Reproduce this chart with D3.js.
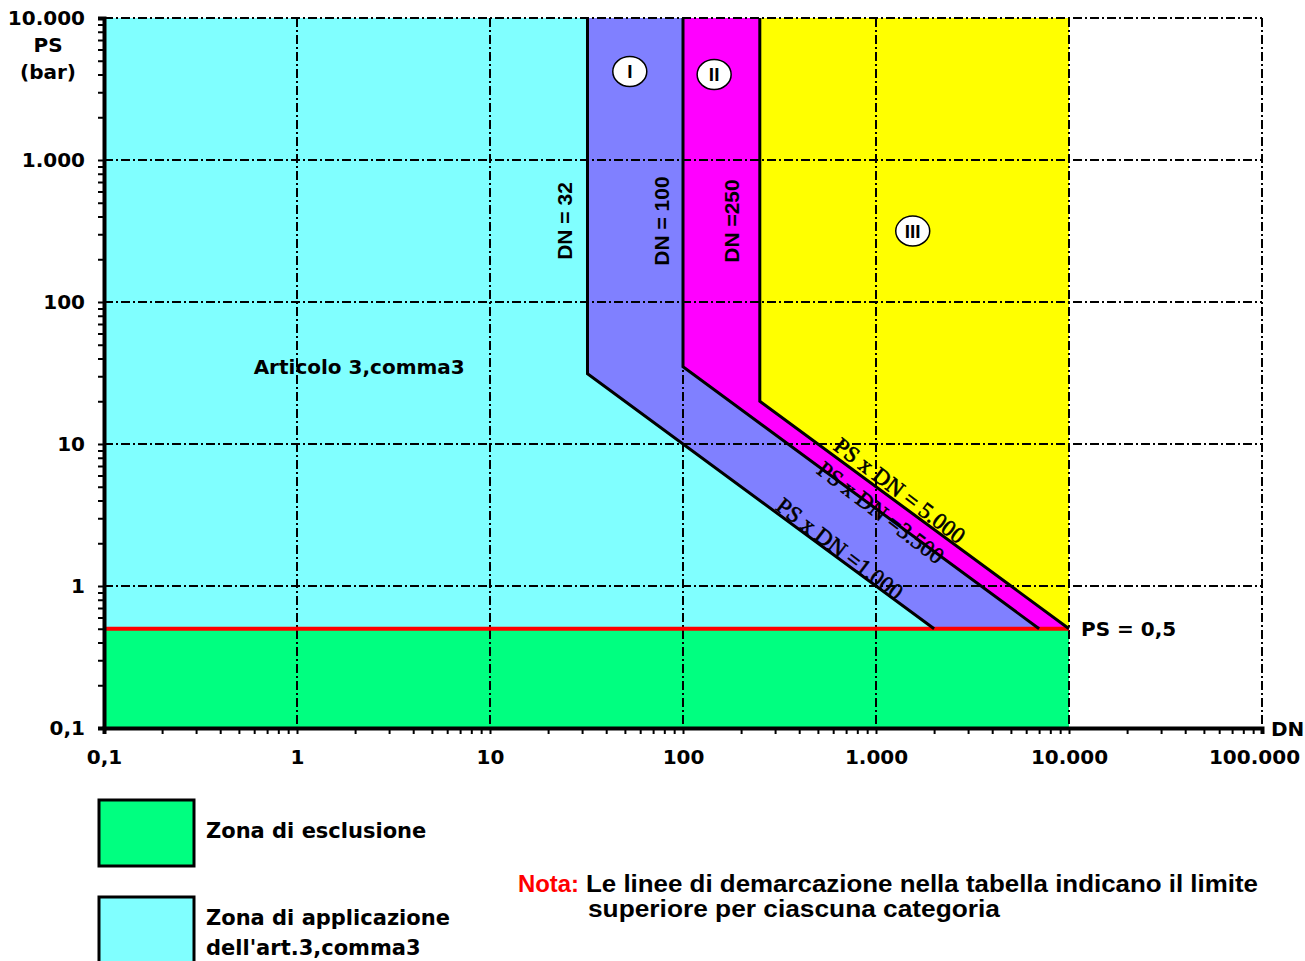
<!DOCTYPE html>
<html>
<head>
    <meta charset="utf-8">
    <title>Categorie PED - tubazioni</title>
    <script src="https://d3js.org/d3.v7.min.js"></script>
    <style>
        body { margin: 0; background: #fff; }
        text { font-family: "DejaVu Sans", Arial, sans-serif; font-weight: bold; }
    </style>
</head>
<body>
<div id="chart"></div>
<script>
    // DN / PS limits (bar)
    const dnDomain = [0.1, 100000];
    const psDomain = [0.1, 10000];
    const psMin = 0.5;        // PS = 0,5
    const dnMax = 10000;      // end of the coloured zones

    // Category boundaries: vertical DN limit, then PS x DN = k
    const categories = ["I", "II", "III"];
    const boundaryDN = [32, 100, 250];
    const boundaryK = [1000, 3500, 5000];
    const boundaryLabels = ["DN = 32", "DN = 100", "DN =250"];
    const productLabels = ["PS x DN =1.000", "PS x DN =3.500", "PS x DN = 5.000"];

    // where the roman numerals sit (DN, PS)
    const numeralDN = [53, 145, 1550];
    const numeralPS = [4200, 4000, 316];

    const zoneColors = {
        esclusione: "#00ff80",
        art3: "#80ffff",
        I: "#8080ff",
        II: "#ff00ff",
        III: "#ffff00"
    };

    const W = 1305, H = 961;
    const svg = d3.select("#chart").append("svg")
        .attr("width", W)
        .attr("height", H);

    const x = d3.scaleLog().domain(dnDomain).range([104, 1262]);
    const y = d3.scaleLog().domain(psDomain).range([728, 18]);

    const it = d3.formatLocale({ decimal: ",", thousands: ".", grouping: [3], currency: ["", "€"] });
    const fmt = it.format(",");
    const isDecade = v => Math.abs(Math.log10(v) - Math.round(Math.log10(v))) < 1e-9;

    const line = d3.line().x(d => x(d[0])).y(d => y(d[1]));

    // boundary of one category as list of [DN, PS]
    function boundary(i) {
        const dn = boundaryDN[i], k = boundaryK[i];
        return [[dn, psDomain[1]], [dn, k / dn], [k / psMin, psMin]];
    }

    const b = categories.map((c, i) => boundary(i));

    // zones
    const zones = [
        { fill: zoneColors.esclusione, pts: [[dnDomain[0], psDomain[0]], [dnMax, psDomain[0]], [dnMax, psMin], [dnDomain[0], psMin]] },
        { fill: zoneColors.art3, pts: [[dnDomain[0], psDomain[1]]].concat(b[0], [[dnDomain[0], psMin]]) },
        { fill: zoneColors.I, pts: b[0].concat(b[1].slice().reverse()) },
        { fill: zoneColors.II, pts: b[1].concat(b[2].slice().reverse()) },
        { fill: zoneColors.III, pts: b[2].concat([[dnMax, psMin], [dnMax, psDomain[1]]]) }
    ];

    svg.append("g").selectAll("path")
        .data(zones)
        .enter().append("path")
        .attr("d", d => line(d.pts) + "Z")
        .attr("fill", d => d.fill);

    // dash-dot grid
    const gx = x.ticks().filter(isDecade).filter(v => v > dnDomain[0]);
    const gy = y.ticks().filter(isDecade).filter(v => v > psDomain[0]);
    const grid = svg.append("g")
        .attr("stroke", "#000")
        .attr("stroke-width", 2)
        .attr("stroke-dasharray", "9,3,2,3");
    grid.selectAll(".vx").data(gx).enter().append("line")
        .attr("x1", d => x(d)).attr("x2", d => x(d))
        .attr("y1", y(psDomain[1])).attr("y2", y(psDomain[0]));
    grid.selectAll(".hy").data(gy).enter().append("line")
        .attr("x1", x(dnDomain[0])).attr("x2", x(dnDomain[1]))
        .attr("y1", d => y(d)).attr("y2", d => y(d));

    // red PS = 0,5 line
    svg.append("line")
        .attr("x1", x(dnDomain[0])).attr("x2", x(dnMax))
        .attr("y1", y(psMin)).attr("y2", y(psMin))
        .attr("stroke", "#ff0000")
        .attr("stroke-width", 4);

    // category boundary lines
    svg.append("g").selectAll("path")
        .data(b)
        .enter().append("path")
        .attr("d", d => line(d))
        .attr("fill", "none")
        .attr("stroke", "#000")
        .attr("stroke-width", 3);

    // axes
    const yAxis = svg.append("g")
        .attr("transform", `translate(${x(dnDomain[0])},0)`)
        .call(d3.axisLeft(y).tickSize(6).tickPadding(13)
            .tickFormat(v => isDecade(v) ? fmt(v) : ""));
    const xAxis = svg.append("g")
        .attr("transform", `translate(0,${y(psDomain[0])})`)
        .call(d3.axisBottom(x).tickSize(6).tickPadding(16)
            .tickFormat(v => isDecade(v) ? fmt(v) : ""));
    [yAxis, xAxis].forEach(a => {
        a.select(".domain").attr("stroke-width", 4).attr("stroke", "#000");
        a.selectAll(".tick line").attr("stroke-width", 2);
        a.selectAll("text").style("font-size", "20px").attr("fill", "#000")
            .style("font-family", "'DejaVu Sans', Arial, sans-serif").style("font-weight", "bold");
    });
    // keep the last DN label inside the page
    xAxis.selectAll(".tick text").filter(v => v === dnDomain[1]).attr("dx", -8);

    svg.append("text").attr("x", 48).attr("y", 52).attr("text-anchor", "middle")
        .style("font-size", "20px").text("PS");
    svg.append("text").attr("x", 48).attr("y", 79).attr("text-anchor", "middle")
        .style("font-size", "20px").text("(bar)");
    svg.append("text").attr("x", 1271).attr("y", 736)
        .style("font-size", "20px").text("DN");

    // vertical boundary labels
    const vx = [565, 662, 732];
    svg.append("g").selectAll("text")
        .data(boundaryLabels)
        .enter().append("text")
        .attr("transform", (d, i) => `translate(${vx[i] + 7},221) rotate(-90)`)
        .attr("text-anchor", "middle")
        .style("font-family", "'Liberation Sans', Arial, sans-serif")
        .style("font-size", "21px")
        .text(d => d);

    // diagonal PS x DN labels
    const ang = Math.atan2(y(1) - y(10), x(10) - x(1)) * 180 / Math.PI;
    const labelDN = [650, 1060, 1330];
    const labelOff = [-11, 0, -14];
    svg.append("g").selectAll("text")
        .data(productLabels)
        .enter().append("text")
        .attr("transform", (d, i) => {
            const dn = labelDN[i];
            return `translate(${x(dn)},${y(boundaryK[i] / dn) + labelOff[i]}) rotate(${ang + 1})`;
        })
        .attr("text-anchor", "middle")
        .attr("dy", "0.35em")
        .style("font-family", "'Liberation Serif', 'Times New Roman', serif")
        .style("font-weight", "normal")
        .style("font-size", "23px")
        .attr("stroke", "#000")
        .attr("stroke-width", 0.6)
        .text(d => d);

    // roman numerals in circles
    const num = svg.append("g").selectAll("g")
        .data(categories)
        .enter().append("g")
        .attr("transform", (d, i) => `translate(${x(numeralDN[i])},${y(numeralPS[i])})`);
    num.append("ellipse")
        .attr("rx", 17).attr("ry", 15)
        .attr("fill", "#fff").attr("stroke", "#000").attr("stroke-width", 1.5);
    num.append("text")
        .attr("text-anchor", "middle")
        .attr("dy", "0.36em")
        .style("font-family", "'Liberation Sans', Arial, sans-serif")
        .style("font-size", "19px")
        .text(d => d);

    // area labels
    svg.append("text")
        .attr("x", x(2.1)).attr("y", y(35))
        .attr("text-anchor", "middle").attr("dy", "0.35em")
        .style("font-size", "20px")
        .text("Articolo 3,comma3");
    svg.append("text")
        .attr("x", x(dnMax) + 12).attr("y", y(psMin))
        .attr("dy", "0.35em")
        .style("font-size", "20px")
        .text("PS = 0,5");

    // legend
    const legend = [
        { color: zoneColors.esclusione, lines: ["Zona di esclusione"], y: 800 },
        { color: zoneColors.art3, lines: ["Zona di applicazione", "dell'art.3,comma3"], y: 897 }
    ];
    const lg = svg.append("g").selectAll("g")
        .data(legend)
        .enter().append("g");
    lg.append("rect")
        .attr("x", 99).attr("y", d => d.y)
        .attr("width", 95).attr("height", 66)
        .attr("fill", d => d.color)
        .attr("stroke", "#000").attr("stroke-width", 3);
    lg.each(function (d) {
        const g = d3.select(this);
        d.lines.forEach((t, j) => {
            g.append("text")
                .attr("x", 206)
                .attr("y", d.y + (d.lines.length === 1 ? 38 : 28 + j * 30))
                .style("font-size", "21px")
                .text(t);
        });
    });

    // note
    const note = svg.append("g").style("font-family", "'Liberation Sans', Arial, sans-serif");
    note.append("text").attr("x", 518).attr("y", 892)
        .attr("fill", "#ff0000")
        .style("font-family", "inherit")
        .style("font-size", "23px")
        .attr("textLength", 61).attr("lengthAdjust", "spacingAndGlyphs")
        .text("Nota:");
    note.append("text").attr("x", 586).attr("y", 892)
        .style("font-family", "inherit")
        .style("font-size", "23px")
        .attr("textLength", 672).attr("lengthAdjust", "spacingAndGlyphs")
        .text("Le linee di demarcazione nella tabella indicano il limite");
    note.append("text").attr("x", 588).attr("y", 917)
        .style("font-family", "inherit")
        .style("font-size", "23px")
        .attr("textLength", 412).attr("lengthAdjust", "spacingAndGlyphs")
        .text("superiore per ciascuna categoria");
</script>
</body>
</html>
